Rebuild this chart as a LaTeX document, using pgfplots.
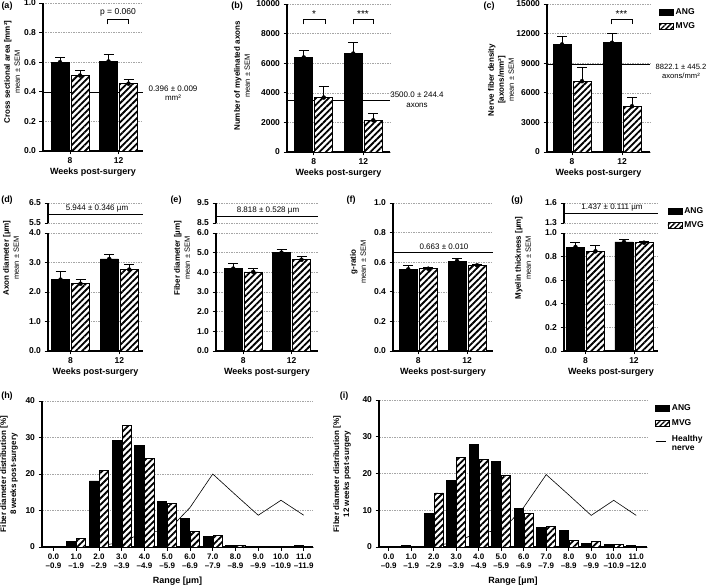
\documentclass[border=0pt]{standalone}
\usepackage{pgfplots}
\pgfplotsset{compat=1.18}
\usepackage{fontspec}
\setmainfont{Liberation Sans}
\usetikzlibrary{patterns.meta}

\pgfplotsset{
  common/.style={
    scale only axis, anchor=south west, clip=false,
    axis line style={line width=1.1pt, black},
    every tick/.style={black, line width=0.9pt},
    major tick length=3.5pt, tick align=outside,
    ymajorgrids,
    grid style={gray!70, line width=0.5pt, dash pattern=on 1.5pt off 1pt},
    tick label style={font=\bfseries\fontsize{8.5}{8.5}\selectfont},
    /pgf/number format/assume math mode=true,
    scaled y ticks=false,
    label style={font=\bfseries\fontsize{9}{10}\selectfont},
  },
  base/.style={common, axis x line*=bottom, axis y line*=left},
  wk/.style={base, xtick={0,1}, xticklabels={8,12}, xlabel={Weeks post-surgery},
    x label style={at={(axis description cs:0.5,0)}, anchor=center, yshift=-21pt}},
  upper/.style={common, axis x line=none, axis y line*=left, xtick=\empty},
  angfill/.style={ybar, fill=black, draw=black, line width=0.8pt, forget plot},
  mvgfill/.style={ybar, fill=white, draw=black, line width=0.8pt, forget plot},
  mvgpat/.style={ybar, draw=black, line width=0.8pt, forget plot,
    pattern={Lines[angle=45,distance=4.5pt,line width=1.8pt]}},
  errplot/.style={only marks, mark=none, forget plot,
    error bars/y dir=plus, error bars/y explicit,
    error bars/error mark=|,
    error bars/error bar style={line width=1pt, black},
    error bars/error mark options={line width=1pt, black, mark size=5pt}},
  angbar/.style={angfill, bar width=18pt, bar shift=-10pt},
  mvgbar/.style={mvgfill, bar width=18pt, bar shift=10pt},
  mvgbarpat/.style={mvgpat, bar width=18pt, bar shift=10pt},
  angerr/.style={errplot, xshift=-10pt},
  mvgerr/.style={errplot, xshift=10pt},
  refline/.style={black, line width=0.9pt, forget plot},
  boxlegend/.style={legend image code/.code={\draw[##1, line width=0.7pt] (0pt,-3pt) rectangle (14pt,3pt);}},
  leg/.style={legend style={draw=none, fill=none, font=\bfseries\fontsize{8.5}{9.5}\selectfont,
    anchor=north west, row sep=3pt, cells={anchor=west, align=left}, inner sep=0pt}},
}

\begin{document}
\begin{tikzpicture}
\path[use as bounding box] (0,0) rectangle (709pt,586pt);

% (a)
\begin{axis}[wk, at={(43pt,435pt)}, width=100pt, height=148pt,
  xmin=-0.557, xmax=1.505, ymin=0, ymax=1,
  ytick={0,0.2,0.4,0.6,0.8,1}, yticklabels={0.0,0.2,0.4,0.6,0.8,1.0}]
\addplot[refline] coordinates {(-0.557,0.396) (1.505,0.396)};
\addplot[angbar] coordinates {(0,0.600) (1,0.605)};
\addplot[angerr] coordinates {(0,0.600) +- (0,0.035) (1,0.605) +- (0,0.050)};
\addplot[mvgbar] coordinates {(0,0.510) (1,0.455)};
\addplot[mvgbarpat] coordinates {(0,0.510) (1,0.455)};
\addplot[mvgerr] coordinates {(0,0.510) +- (0,0.035) (1,0.455) +- (0,0.025)};
\end{axis}

% (b)
\begin{axis}[wk, at={(287pt,434pt)}, width=103pt, height=148pt,
  xmin=-0.540, xmax=1.540, ymin=0, ymax=10000,
  ytick={0,2000,4000,6000,8000,10000}, yticklabels={0,2000,4000,6000,8000,10000}]
\addplot[refline] coordinates {(-0.540,3500) (1.540,3500)};
\addplot[angbar] coordinates {(0,6390) (1,6650)};
\addplot[angerr] coordinates {(0,6390) +- (0,450) (1,6650) +- (0,720)};
\addplot[mvgbar] coordinates {(0,3680) (1,2140)};
\addplot[mvgbarpat] coordinates {(0,3680) (1,2140)};
\addplot[mvgerr] coordinates {(0,3680) +- (0,720) (1,2140) +- (0,460)};
\end{axis}

% (c)
\begin{axis}[wk, leg, at={(547pt,434pt)}, width=103pt, height=148pt,
  xmin=-0.5, xmax=1.56, ymin=0, ymax=15000,
  ytick={0,3000,6000,9000,12000,15000}, yticklabels={0,3000,6000,9000,12000,15000},
  legend style={at={(axis description cs:1.08,0.985)}}]
\addplot[refline] coordinates {(-0.5,8822.1) (1.56,8822.1)};
\addplot[angbar] coordinates {(0,10900) (1,11070)};
\addplot[angerr] coordinates {(0,10900) +- (0,780) (1,11070) +- (0,950)};
\addplot[mvgbar] coordinates {(0,7180) (1,4640)};
\addplot[mvgbarpat] coordinates {(0,7180) (1,4640)};
\addplot[mvgerr] coordinates {(0,7180) +- (0,1350) (1,4640) +- (0,880)};
\addlegendimage{boxlegend, fill=black, draw=black}
\addlegendentry{ANG}
\addlegendimage{boxlegend, fill=white, draw=black, postaction={pattern={Lines[angle=45,distance=3.5pt,line width=1.3pt]}}}
\addlegendentry{MVG}
\end{axis}

% (d)
\begin{axis}[upper, at={(48pt,363pt)}, width=95pt, height=20pt,
  xmin=-0.462, xmax=1.487, ymin=5.5, ymax=6.5, ytick={5.5,6.5}, yticklabels={5.5,6.5}]
\addplot[refline] coordinates {(-0.462,5.944) (1.487,5.944)};
\end{axis}
\begin{axis}[wk, at={(48pt,235pt)}, width=95pt, height=118pt,
  xmin=-0.462, xmax=1.487, ymin=0, ymax=4,
  ytick={0,1,2,3,4}, yticklabels={0.0,1.0,2.0,3.0,4.0}]
\addplot[angbar] coordinates {(0,2.42) (1,3.12)};
\addplot[angerr] coordinates {(0,2.42) +- (0,0.26) (1,3.12) +- (0,0.16)};
\addplot[mvgbar] coordinates {(0,2.28) (1,2.76)};
\addplot[mvgbarpat] coordinates {(0,2.28) (1,2.76)};
\addplot[mvgerr] coordinates {(0,2.28) +- (0,0.15) (1,2.76) +- (0,0.16)};
\end{axis}

% (e)
\begin{axis}[upper, at={(216pt,363pt)}, width=102pt, height=20pt,
  xmin=-0.565, xmax=1.549, ymin=8.5, ymax=9.5, ytick={8.5,9.5}, yticklabels={8.5,9.5}]
\addplot[refline] coordinates {(-0.565,8.818) (1.549,8.818)};
\end{axis}
\begin{axis}[wk, at={(216pt,235pt)}, width=102pt, height=118pt,
  xmin=-0.565, xmax=1.549, ymin=0, ymax=6,
  ytick={0,1,2,3,4,5,6}, yticklabels={0.0,1.0,2.0,3.0,4.0,5.0,6.0}]
\addplot[angbar] coordinates {(0,4.19) (1,5.00)};
\addplot[angerr] coordinates {(0,4.19) +- (0,0.28) (1,5.00) +- (0,0.15)};
\addplot[mvgbar] coordinates {(0,4.02) (1,4.64)};
\addplot[mvgbarpat] coordinates {(0,4.02) (1,4.64)};
\addplot[mvgerr] coordinates {(0,4.02) +- (0,0.20) (1,4.64) +- (0,0.14)};
\end{axis}

% (f)
\begin{axis}[wk, at={(393pt,235pt)}, width=100pt, height=148pt,
  xmin=-0.518, xmax=1.533, ymin=0, ymax=1,
  ytick={0,0.2,0.4,0.6,0.8,1}, yticklabels={0.0,0.2,0.4,0.6,0.8,1.0}]
\addplot[refline] coordinates {(-0.518,0.663) (1.533,0.663)};
\addplot[angbar] coordinates {(0,0.552) (1,0.608)};
\addplot[angerr] coordinates {(0,0.552) +- (0,0.029) (1,0.608) +- (0,0.014)};
\addplot[mvgbar] coordinates {(0,0.556) (1,0.579)};
\addplot[mvgbarpat] coordinates {(0,0.556) (1,0.579)};
\addplot[mvgerr] coordinates {(0,0.556) +- (0,0.007) (1,0.579) +- (0,0.007)};
\end{axis}

% (g)
\begin{axis}[upper, leg, at={(564pt,363pt)}, width=94pt, height=20pt,
  xmin=-0.443, xmax=1.495, ymin=1.3, ymax=1.6, ytick={1.3,1.6}, yticklabels={1.3,1.6},
  legend style={at={(axis description cs:1.10,0.9)}}]
\addplot[refline] coordinates {(-0.443,1.437) (1.495,1.437)};
\addlegendimage{boxlegend, fill=black, draw=black}
\addlegendentry{ANG}
\addlegendimage{boxlegend, fill=white, draw=black, postaction={pattern={Lines[angle=45,distance=3.5pt,line width=1.3pt]}}}
\addlegendentry{MVG}
\end{axis}
\begin{axis}[wk, at={(564pt,235pt)}, width=94pt, height=118pt,
  xmin=-0.443, xmax=1.495, ymin=0, ymax=1,
  ytick={0,0.2,0.4,0.6,0.8,1}, yticklabels={0.0,0.2,0.4,0.6,0.8,1.0}]
\addplot[angbar] coordinates {(0,0.881) (1,0.924)};
\addplot[angerr] coordinates {(0,0.881) +- (0,0.037) (1,0.924) +- (0,0.025)};
\addplot[mvgbar] coordinates {(0,0.845) (1,0.918)};
\addplot[mvgbarpat] coordinates {(0,0.845) (1,0.918)};
\addplot[mvgerr] coordinates {(0,0.845) +- (0,0.045) (1,0.918) +- (0,0.009)};
\end{axis}

% (h)
\begin{axis}[base, at={(42pt,39pt)}, width=271pt, height=146pt,
  xmin=-0.505, xmax=11.407, ymin=0, ymax=40,
  ytick={0,10,20,30,40}, yticklabels={0,10,20,30,40},
  xtick={0,1,2,3,4,5,6,7,8,9,10,11},
  xticklabels={{0.0\\–0.9},{1.0\\–1.9},{2.0\\–2.9},{3.0\\–3.9},{4.0\\–4.9},{5.0\\–5.9},{6.0\\–6.9},{7.0\\–7.9},{8.0\\–8.9},{9.0\\–9.9},{10.0\\–10.9},{11.0\\–11.9}},
  xticklabel style={align=center, font=\bfseries\fontsize{8}{8.5}\selectfont},
  xlabel={Range [µm]},
  x label style={at={(axis description cs:0.5,0)}, anchor=center, yshift=-34pt}]
\addplot[black, line width=0.6pt, forget plot] coordinates {(0,0) (1,0) (2,0.3) (3,1.3) (4,4.1) (5,4.3) (6,10.8) (7,20.0) (8,14.3) (9,8.7) (10,12.8) (11,8.7)};
\addplot[angfill, bar width=9.3pt, bar shift=-5pt] coordinates {(0,0) (1,1.4) (2,18.1) (3,29.2) (4,27.8) (5,12.6) (6,7.8) (7,2.8) (8,0.4) (9,0) (10,0) (11,0.4)};
\addplot[mvgfill, bar width=9.3pt, bar shift=5pt] coordinates {(0,0) (1,2.3) (2,21.0) (3,33.2) (4,24.3) (5,11.9) (6,4.2) (7,3.2) (8,0.4) (9,0) (10,0) (11,0)};
\addplot[mvgpat, bar width=9.3pt, bar shift=5pt] coordinates {(0,0) (1,2.3) (2,21.0) (3,33.2) (4,24.3) (5,11.9) (6,4.2) (7,3.2) (8,0.4) (9,0) (10,0) (11,0)};
\end{axis}

% (i)
\begin{axis}[base, leg, at={(379pt,39pt)}, width=268pt, height=147pt,
  xmin=-0.431, xmax=11.48, ymin=0, ymax=40,
  ytick={0,10,20,30,40}, yticklabels={0,10,20,30,40},
  xtick={0,1,2,3,4,5,6,7,8,9,10,11},
  xticklabels={{0.0\\–0.9},{1.0\\–1.9},{2.0\\–2.9},{3.0\\–3.9},{4.0\\–4.9},{5.0\\–5.9},{6.0\\–6.9},{7.0\\–7.9},{8.0\\–8.9},{9.0\\–9.9},{10.0\\–10.9},{11.0\\–12.0}},
  xticklabel style={align=center, font=\bfseries\fontsize{8}{8.5}\selectfont},
  xlabel={Range [µm]},
  x label style={at={(axis description cs:0.5,0)}, anchor=center, yshift=-34pt},
  legend style={at={(axis description cs:1.03,0.985)}, row sep=4pt}]
\addplot[black, line width=0.6pt, forget plot] coordinates {(0,0) (1,0) (2,0.3) (3,1.3) (4,4.1) (5,4.3) (6,10.8) (7,19.7) (8,14.2) (9,8.6) (10,12.7) (11,8.6)};
\addplot[angfill, bar width=9.3pt, bar shift=-5pt] coordinates {(0,0) (1,0.3) (2,9.1) (3,18.2) (4,27.9) (5,23.2) (6,10.5) (7,5.2) (8,4.5) (9,0.9) (10,0.6) (11,0.45)};
\addplot[mvgfill, bar width=9.3pt, bar shift=5pt] coordinates {(0,0) (1,0.15) (2,14.7) (3,24.4) (4,23.9) (5,19.5) (6,9.1) (7,5.5) (8,1.7) (9,1.4) (10,0.6) (11,0)};
\addplot[mvgpat, bar width=9.3pt, bar shift=5pt] coordinates {(0,0) (1,0.15) (2,14.7) (3,24.4) (4,23.9) (5,19.5) (6,9.1) (7,5.5) (8,1.7) (9,1.4) (10,0.6) (11,0)};
\addlegendimage{boxlegend, fill=black, draw=black}
\addlegendentry{ANG}
\addlegendimage{boxlegend, fill=white, draw=black, postaction={pattern={Lines[angle=45,distance=3.5pt,line width=1.3pt]}}}
\addlegendentry{MVG}
\addlegendimage{legend image code/.code={\draw[black, line width=0.6pt] (0pt,3pt) -- (10pt,3pt);}}
\addlegendentry{Healthy\\nerve}
\end{axis}

% annotations (pixel coordinates from top-left)
\begin{scope}[shift={(0pt,586pt)}, x=1pt, y=-1pt]
\tikzset{plab/.style={font=\bfseries\fontsize{9}{10}\selectfont},
  ylab/.style={rotate=90, align=center, font=\bfseries\fontsize{8}{10}\selectfont},
  ann/.style={font=\fontsize{8}{9.5}\selectfont, align=center}}
\node[plab] at (7,6) {(a)};
\node[plab] at (237,6) {(b)};
\node[plab] at (489,6) {(c)};
\node[plab] at (7,200) {(d)};
\node[plab] at (176,200) {(e)};
\node[plab] at (351,200) {(f)};
\node[plab] at (517,200) {(g)};
\node[plab] at (7,396) {(h)};
\node[plab] at (344,396) {(i)};

\node[ylab] at (12,72) {Cross sectional area [mm²]\\{\mdseries\fontsize{7.5}{8}\selectfont mean ± SEM}};
\node[ylab] at (242,76) {Number of myelinated axons\\{\mdseries\fontsize{7.5}{8}\selectfont mean ± SEM}};
\node[ylab] at (501,80) {Nerve fiber density\\{}[axons/mm²]\\{\mdseries\fontsize{7.5}{8}\selectfont mean ± SEM}};
\node[ylab] at (11,258) {Axon diameter [µm]\\{\mdseries\fontsize{7.5}{8}\selectfont mean ± SEM}};
\node[ylab] at (182,258) {Fiber diameter [µm]\\{\mdseries\fontsize{7.5}{8}\selectfont mean ± SEM}};
\node[ylab] at (358,262) {g-ratio\\{\mdseries\fontsize{7.5}{8}\selectfont mean ± SEM}};
\node[ylab] at (523,258) {Myelin thickness [µm]\\{\mdseries\fontsize{7.5}{8}\selectfont mean ± SEM}};
\node[ylab] at (9,474) {Fiber diameter distribution [\%]\\8 weeks post-surgery};
\node[ylab] at (342,474) {Fiber diameter distribution [\%]\\12 weeks post-surgery};

% brackets
\draw[line width=1pt] (107,24.5) -- (107,20) -- (128,20) -- (128,24.5);
\node[ann, font=\fontsize{8.5}{10}\selectfont] at (118,12) {p = 0.060};
\draw[line width=1pt] (303,24.5) -- (303,20) -- (325,20) -- (325,24.5);
\node[ann, font=\fontsize{10}{10}\selectfont] at (314,14) {*};
\draw[line width=1pt] (353,24.5) -- (353,20) -- (373,20) -- (373,24.5);
\node[ann, font=\fontsize{10}{10}\selectfont] at (363,14) {***};
\draw[line width=1pt] (611,24.5) -- (611,20) -- (632,20) -- (632,24.5);
\node[ann, font=\fontsize{10}{10}\selectfont] at (621.5,14) {***};

% reference value labels
\node[ann] at (173,93) {0.396 ± 0.009\\mm²};
\node[ann] at (417,100) {3500.0 ± 244.4\\axons};
\node[ann, font=\fontsize{7.6}{9}\selectfont] at (681,71) {8822.1 ± 445.2\\axons/mm²};
\node[ann] at (97,209) {5.944 ± 0.346 µm};
\node[ann] at (268,211) {8.818 ± 0.528 µm};
\node[ann] at (444,247) {0.663 ± 0.010};
\node[ann] at (612,208) {1.437 ± 0.111 µm};
\end{scope}
\end{tikzpicture}
\end{document}
